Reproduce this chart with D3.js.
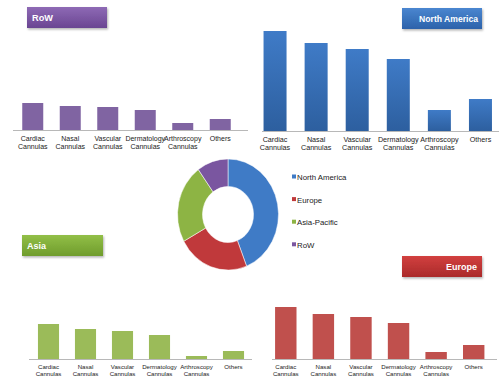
<!DOCTYPE html>
<html><head><meta charset="utf-8">
<script src="https://cdn.jsdelivr.net/npm/d3@7"></script>
<style>body{margin:0;background:#fff}svg{display:block}</style>
</head><body>
<svg id="c" width="500" height="382"></svg>
<script>
// ---- data ----
const categories = [["Cardiac","Cannulas"],["Nasal","Cannulas"],["Vascular","Cannulas"],["Dermatology","Cannulas"],["Arthroscopy","Cannulas"],["Others",""]];
const rowValues = [27, 24, 23, 20, 7, 11];
const northAmericaValues = [100, 88, 82, 72, 21, 32];
const asiaValues = [35, 30, 28, 24, 3, 8];
const europeValues = [52, 45, 42, 36, 7, 14];
const regions = ["North America", "Europe", "Asia-Pacific", "RoW"];
const regionShares = [44, 23, 23, 10];

const svg = d3.select("#c");
const defs = svg.append("defs");
function grad(id, c1, c2){
  const g = defs.append("linearGradient").attr("id", id).attr("x1",0).attr("y1",0).attr("x2",0).attr("y2",1);
  g.append("stop").attr("offset","0%").attr("stop-color",c1);
  g.append("stop").attr("offset","100%").attr("stop-color",c2);
}
grad("gPurple","#8e6ab5","#6a4592");
grad("gBlue","#4a86d0","#2c62aa");
grad("gGreen","#92bf47","#6f9c2c");
grad("gRed","#d2403f","#aa2a2a");
grad("barBlue","#3f7bc7","#2d5f9f");
const sh = defs.append("filter").attr("id","sh").attr("x","-10%").attr("y","-10%").attr("width","130%").attr("height","150%");
sh.append("feDropShadow").attr("dx",1).attr("dy",1.5).attr("stdDeviation",1).attr("flood-color","#000").attr("flood-opacity",0.3);

const y = d3.scaleLinear().domain([0, 100]).range([0, 100]);

function panel(o){
  const x = d3.scaleBand().domain(d3.range(categories.length)).range(o.band).paddingInner(o.pad).paddingOuter(o.pad/2);
  const g = svg.append("g");
  g.selectAll("rect.bar").data(o.values).enter().append("rect")
    .attr("x",(d,i)=>x(i)).attr("width",x.bandwidth())
    .attr("y",d=>o.base - y(d)).attr("height",d=>y(d))
    .attr("fill",o.barFill);
  g.append("line").attr("x1",o.line[0]).attr("x2",o.line[1]).attr("y1",o.base+0.5).attr("y2",o.base+0.5)
    .attr("stroke","#b8b8b8").attr("stroke-width",1.2);
  categories.forEach((c,i)=>{
    const t = g.append("text").attr("x",x(i)+x.bandwidth()/2).attr("y",o.base+o.ly)
      .attr("text-anchor","middle").attr("font-family","Liberation Sans, Arial, sans-serif")
      .attr("font-size",o.fs).attr("fill","#222");
    t.append("tspan").attr("x",x(i)+x.bandwidth()/2).text(c[0]);
    if(c[1]) t.append("tspan").attr("x",x(i)+x.bandwidth()/2).attr("dy",o.lh).text(c[1]);
  });
  // title box
  g.append("rect").attr("x",o.box[0]).attr("y",o.box[1]).attr("width",o.box[2]).attr("height",o.box[3])
    .attr("fill",o.boxFill).attr("filter","url(#sh)");
  g.append("text").attr("x",o.tx).attr("y",o.box[1]+o.box[3]/2+3.3)
    .attr("text-anchor",o.anchor).attr("font-family","Liberation Sans, Arial, sans-serif")
    .attr("font-weight","bold").attr("font-size",o.tfs).attr("fill","#fff").text(o.title);
}

panel({values:rowValues, base:130, band:[14,239], pad:0.44, line:[13,248], barFill:"#8064a2",
  ly:10.5, lh:8, fs:7, box:[27,7,80,21], boxFill:"url(#gPurple)", title:"RoW", tx:32, anchor:"start", tfs:9.2});
panel({values:northAmericaValues, base:131, band:[254.5,501], pad:0.44, line:[262,499], barFill:"url(#barBlue)",
  ly:10.5, lh:8, fs:7.2, box:[402,8,80,21], boxFill:"url(#gBlue)", title:"North America", tx:478, anchor:"end", tfs:8.6});
panel({values:asiaValues, base:359, band:[30,252], pad:0.43, line:[29,252], barFill:"#9bbb59",
  ly:9.5, lh:7.5, fs:6.1, box:[22,235,81,21], boxFill:"url(#gGreen)", title:"Asia", tx:27, anchor:"start", tfs:9});
panel({values:europeValues, base:359, band:[267,492.5], pad:0.43, line:[272,497], barFill:"#c0504d",
  ly:9.5, lh:7.5, fs:6.1, box:[402,256,80,21], boxFill:"url(#gRed)", title:"Europe", tx:477, anchor:"end", tfs:9});

// donut
const colors = d3.scaleOrdinal().domain(regions).range(["#3f7bc6","#c0393b","#8db444","#7a56a0"]);
const pie = d3.pie().sort(null).value(d=>d.v);
const arc = d3.arc().innerRadius(25.5).outerRadius(50.5);
const dg = svg.append("g").attr("transform","translate(228,214.5) scale(1,1.1)");
dg.selectAll("path").data(pie(regions.map((r,i)=>({r, v:regionShares[i]})))).enter().append("path")
  .attr("d",arc).attr("fill",d=>colors(d.data.r)).attr("stroke","#fff").attr("stroke-width",0.5);

// legend
const lg = svg.append("g");
regions.forEach((r,i)=>{
  const yy = 177 + i*22.6;
  lg.append("rect").attr("x",292).attr("y",yy-2.5).attr("width",4).attr("height",4).attr("fill",colors(r));
  lg.append("text").attr("x",297).attr("y",yy+3).attr("font-family","Liberation Sans, Arial, sans-serif")
    .attr("font-size",7.8).attr("fill","#222").text(r);
});
</script>
</body></html>
